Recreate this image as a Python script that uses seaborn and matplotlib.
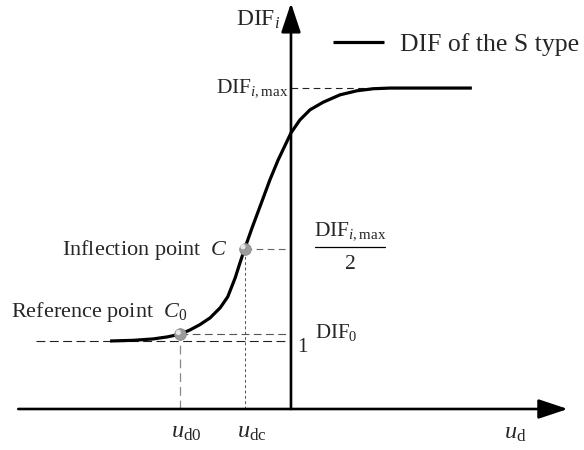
import matplotlib
matplotlib.use("Agg")
import matplotlib.pyplot as plt
import matplotlib.transforms as mtransforms
from matplotlib.font_manager import FontProperties
import seaborn as sns

# S-shaped dynamic increase factor curve (u_d on x, DIF_i on y)
curve_x = [-2.66, -2.32, -2.03, -1.82, -1.63, -1.49, -1.34, -1.19, -1.04, -0.93,
           -0.82, -0.75, -0.68, -0.57, -0.41, -0.31, -0.19, 0.00, 0.13, 0.28,
           0.47, 0.72, 0.97, 1.21, 1.46, 1.90, 2.66]
curve_y = [1.00, 1.01, 1.03, 1.06, 1.10, 1.16, 1.24, 1.34, 1.49, 1.65,
           1.93, 2.15, 2.36, 2.67, 3.10, 3.37, 3.66, 4.06, 4.25, 4.40,
           4.51, 4.62, 4.68, 4.71, 4.72, 4.72, 4.72]

dif_max = 4.72          # plateau DIF_i,max
dif_base = 1.0          # lower asymptote "1"
u_d0, dif_0 = -1.63, 1.10   # reference point C0
u_dc = -0.68                # inflection point C
dif_c = dif_max / 2

sns.set_theme(style="white")
plt.rcParams["font.family"] = ["Liberation Serif", "DejaVu Serif"]
plt.rcParams["mathtext.fontset"] = "custom"
plt.rcParams["mathtext.rm"] = "Liberation Serif"
plt.rcParams["mathtext.it"] = "Liberation Serif:italic"
plt.rcParams["mathtext.bf"] = "Liberation Serif:bold"

fig = plt.figure(figsize=(5.84, 4.5), dpi=100)
ax = fig.add_axes([0, 0, 1, 1])
ax.set_xlim(-4.279, 4.309)
ax.set_ylim(-0.603, 6.015)
ax.set_axis_off()

# coordinate axes with arrow heads
arrow_kw = dict(arrowstyle="-|>,head_length=0.9,head_width=0.3", lw=1.9,
                color="black", shrinkA=0, shrinkB=0, mutation_scale=20)
ax.annotate("", xy=(4.07, 0), xytext=(-4.01, 0), arrowprops=arrow_kw)
ax.annotate("", xy=(0, 5.97), xytext=(0, 0), arrowprops=arrow_kw)

# guide lines
ax.plot([-3.75, 0], [dif_base, dif_base], color="#222222", lw=0.8, dashes=(8, 4))
ax.plot([u_d0, 0], [dif_0, dif_0], color="#555555", lw=0.8, dashes=(7, 4))
ax.plot([u_d0, u_d0], [0, dif_0], color="#888888", lw=0.9, dashes=(7, 4))
ax.plot([u_dc, u_dc], [0, dif_c], color="#555555", lw=0.7, dashes=(3, 2.5))
ax.plot([u_dc, 0], [dif_c, dif_c], color="#666666", lw=0.8, dashes=(6, 4))
ax.plot([0, 1.6], [dif_max, dif_max], color="#222222", lw=0.8, dashes=(6, 4))

# the curve
sns.lineplot(x=curve_x, y=curve_y, color="black", lw=2.3, ax=ax,
             solid_joinstyle="round", solid_capstyle="butt",
             label="DIF of the S type")

# C0 and C drawn as small grey spheres
pts_x = [u_d0, u_dc]
pts_y = [dif_0, dif_c]
sns.scatterplot(x=pts_x, y=pts_y, s=70, color="#9c9c9c", edgecolor="#8a8a8a",
                linewidth=0.6, ax=ax, zorder=5, legend=False)
hl = sns.scatterplot(x=pts_x, y=pts_y, s=14, color="#e6e6e6", edgecolor="none",
                     ax=ax, zorder=6, legend=False)
hl.collections[-1].set_offset_transform(
    mtransforms.offset_copy(ax.transData, fig=fig, x=-1.3, y=1.3, units="points"))

ax.legend(loc="center left", bbox_to_anchor=(0.570, 0.902), frameon=False,
          handlelength=2.0, handletextpad=0.6, borderpad=0, borderaxespad=0,
          prop=FontProperties(family="Liberation Serif", size=18.5))

# labels
ax.text(-0.81, 5.72, r"DIF$_{i}$", fontsize=17, ha="left", va="center")
ax.text(-0.04, dif_max, r"DIF$_{i,\mathrm{max}}$", fontsize=15.5,
        ha="right", va="center")
ax.text(0.87, 2.62, r"DIF$_{i,\mathrm{max}}$", fontsize=15.5,
        ha="center", va="center")
ax.plot([0.35, 1.38], [2.38, 2.38], color="black", lw=0.9)
ax.text(0.87, 2.12, "2", fontsize=15.5, ha="center", va="center")
ax.text(0.17, 0.91, "1", fontsize=15, ha="center", va="center")
ax.text(0.35, 1.13, r"DIF$_{0}$", fontsize=15, ha="left", va="center")
ax.text(-0.92, 2.34, r"Inflection point  $C$", fontsize=16,
        ha="right", va="center")
ax.text(-1.52, 1.42, r"Reference point  $C_{0}$", fontsize=16,
        ha="right", va="center")
ax.text(u_d0 + 0.09, -0.34, r"$u_{\mathrm{d0}}$", fontsize=17.5, ha="center", va="center")
ax.text(u_dc + 0.10, -0.34, r"$u_{\mathrm{dc}}$", fontsize=17.5, ha="center", va="center")
ax.text(3.30, -0.36, r"$u_{\mathrm{d}}$", fontsize=17.5, ha="center", va="center")

fig.savefig("out.png", dpi=100)
